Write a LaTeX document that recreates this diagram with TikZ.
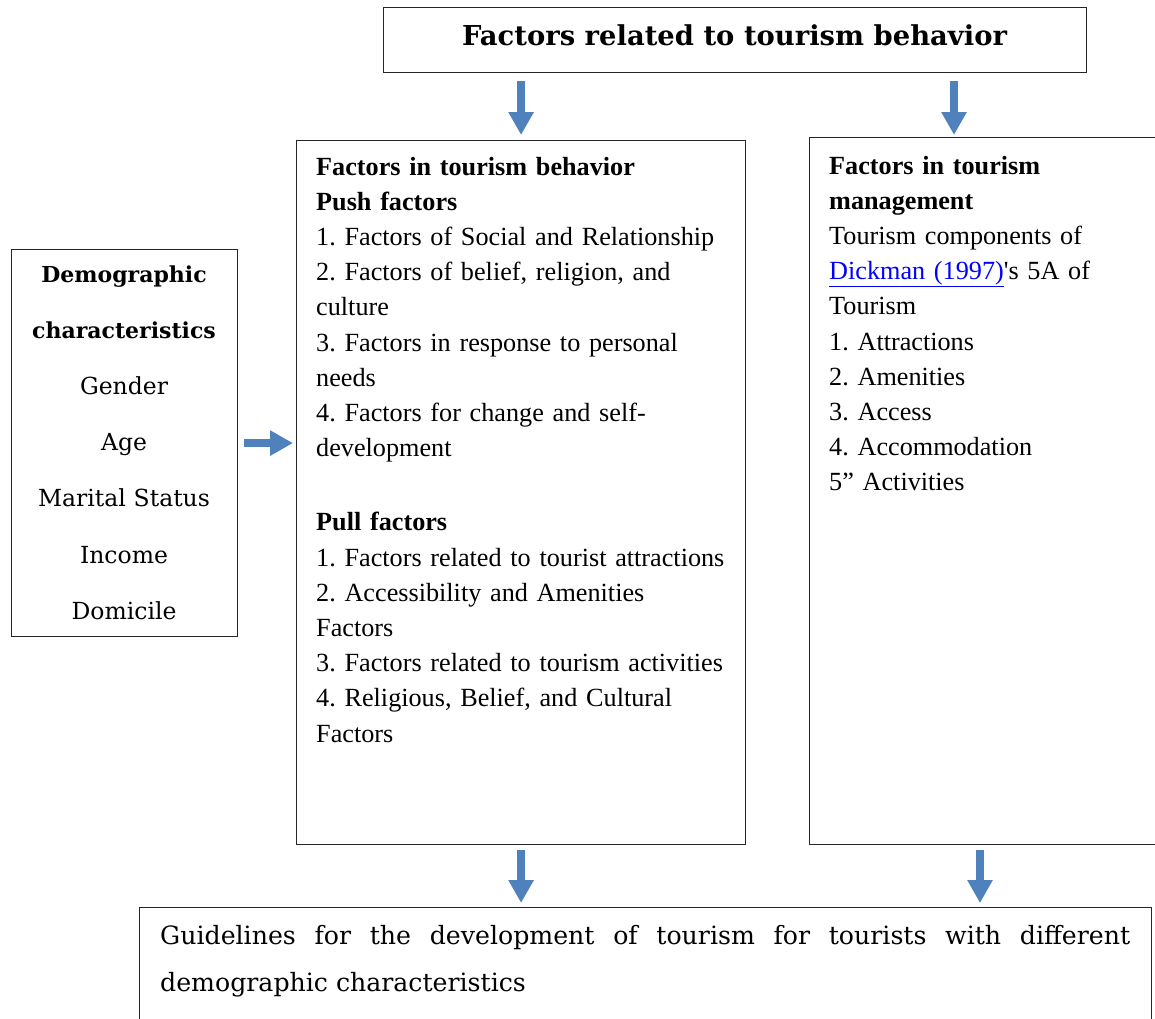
\documentclass[tikz,border=0pt]{standalone}
\usepackage{fontspec}
\setmainfont{Liberation Serif}
\newfontfamily\bkfont{DejaVu Serif}
\usetikzlibrary{arrows.meta}
\definecolor{arrowblue}{RGB}{79,129,189}
\definecolor{linkblue}{RGB}{0,0,255}
\frenchspacing
\tikzset{
  boxshape/.style={draw=black!85, line width=1.2pt, rectangle, inner sep=0pt, anchor=north west},
  barrow/.style={draw=arrowblue, line width=8.5pt, -{Triangle[width=24pt,length=23pt]}},
  timestext/.style={inner sep=0pt, anchor=base west, align=left, font=\frenchspacing\fontsize{26.2}{35.2}\selectfont},
}
\begin{document}
\begin{tikzpicture}[x=1pt,y=-1pt]
\useasboundingbox (0,0) rectangle (1155,1018);
% boxes
\node[boxshape, minimum width=703pt, minimum height=65pt] (title) at (383,7) {};
\node[boxshape, minimum width=449pt, minimum height=704pt] (mid) at (296,140) {};
\node[boxshape, minimum width=420pt, minimum height=707pt] (right) at (809,137) {};
\node[boxshape, minimum width=226pt, minimum height=387pt] (demo) at (11,249) {};
\node[boxshape, minimum width=1012pt, minimum height=140pt] (guide) at (139,907) {};
% texts
\node[inner sep=0pt, anchor=base, font=\bkfont\bfseries\fontsize{27.4}{30}\selectfont] (titletext) at (734.5,45) {Factors related to tourism behavior};
\node[timestext, text width=430pt] (midtext) at (316,175) {\textbf{Factors in tourism behavior}\\
\textbf{Push factors}\\
1. Factors of Social and Relationship\\
2. Factors of belief, religion, and\\
culture\\
3. Factors in response to personal\\
needs\\
4. Factors for change and self-\\
development\\[39pt]
\textbf{Pull factors}\\
1. Factors related to tourist attractions\\
2. Accessibility and Amenities\\
Factors\\
3. Factors related to tourism activities\\
4. Religious, Belief, and Cultural\\
Factors};
\node[timestext, text width=320pt] (righttext) at (829,174) {\textbf{Factors in tourism}\\
\textbf{management}\\
Tourism components of\\
\textcolor{linkblue}{\underline{Dickman (1997)}}\textquotesingle s 5A of\\
Tourism\\
1. Attractions\\
2. Amenities\\
3. Access\\
4. Accommodation\\
5” Activities};
\node[inner sep=0pt, anchor=base, align=center, text width=226pt, font=\bkfont\fontsize{23.5}{56.2}\selectfont] (demotext) at (124,282) {\textbf{\fontsize{22}{56.2}\selectfont Demographic}\\
\textbf{\fontsize{22}{56.2}\selectfont characteristics}\\
Gender\\
Age\\
Marital Status\\
Income\\
Domicile};
\node[inner sep=0pt, anchor=base west, align=justify, text width=970pt, font=\bkfont\fontsize{25.2}{47}\selectfont] (guidetext) at (160,944) {Guidelines for the development of tourism for tourists with different\linebreak demographic characteristics};
% arrows
\coordinate (rin) at ([xshift=145pt]right.north west);
\coordinate (rout) at ([xshift=171pt]right.south west);
\draw[barrow, shorten <=8pt, shorten >=5pt] (mid.north |- title.south) -- (mid.north);
\draw[barrow, shorten <=8pt, shorten >=2pt] (rin |- title.south) -- (rin);
\draw[barrow, shorten <=6pt, shorten >=3pt] (demo.east) -- (demo.east -| mid.west);
\draw[barrow, shorten <=5pt, shorten >=4pt] (mid.south) -- (mid.south |- guide.north);
\draw[barrow, shorten <=5pt, shorten >=4pt] (rout) -- (rout |- guide.north);
\end{tikzpicture}
\end{document}
